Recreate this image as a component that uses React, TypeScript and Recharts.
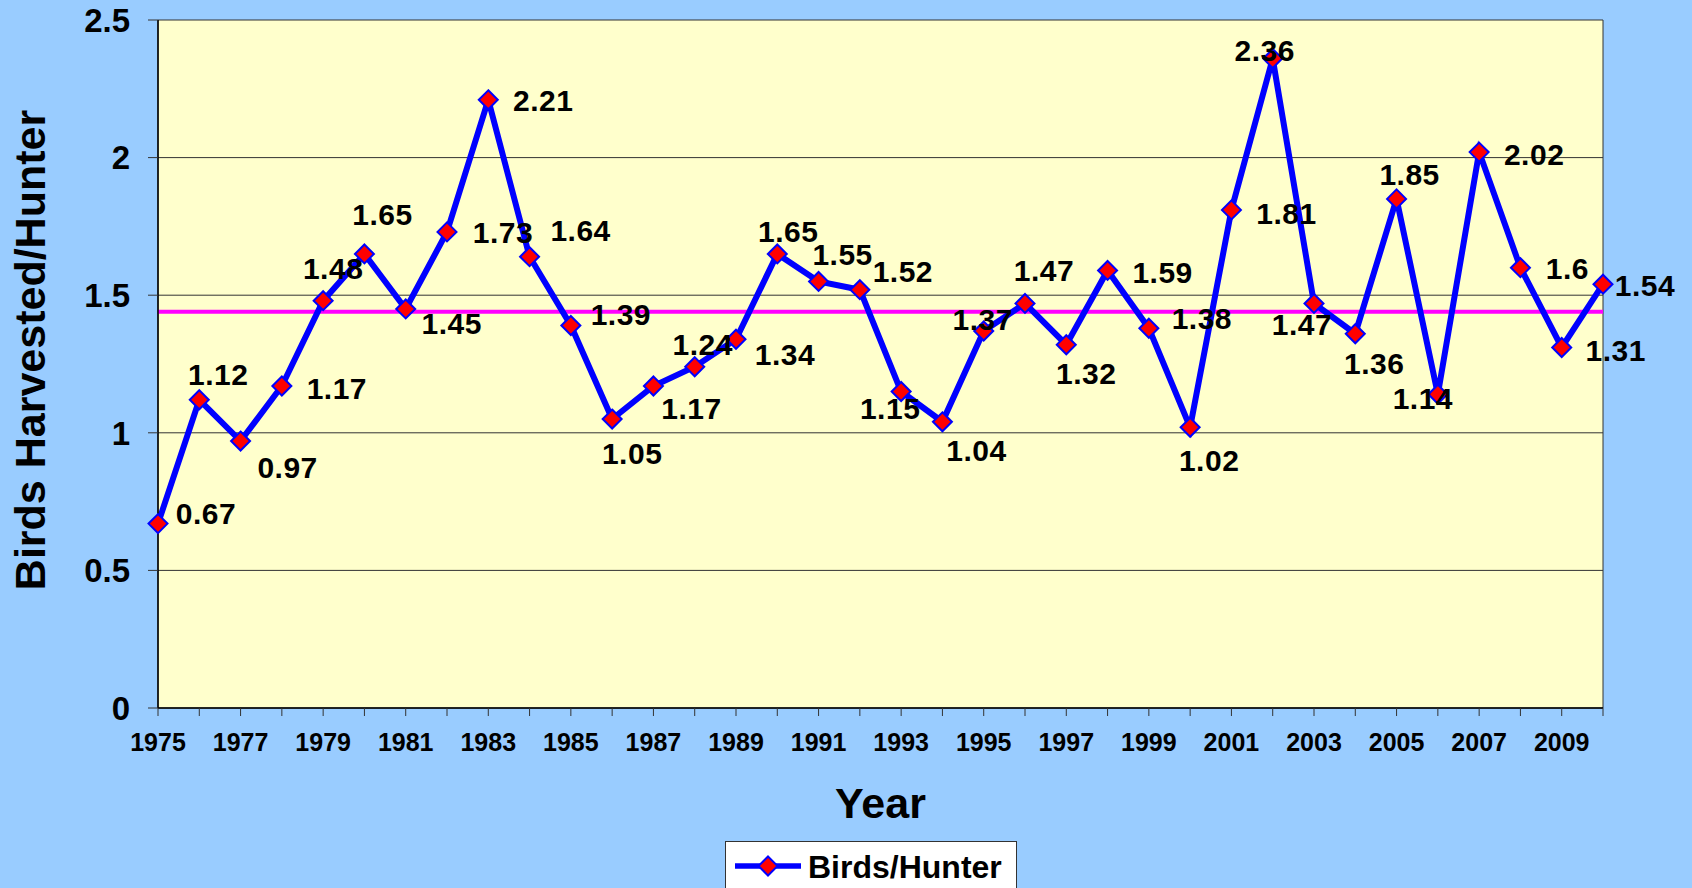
import { LineChart, Line, XAxis, YAxis, CartesianGrid, ReferenceLine, LabelList, Legend, Label } from 'recharts';

const FONT = 'Arial, "Liberation Sans", sans-serif';

const YEARS = [
  1975, 1976, 1977, 1978, 1979, 1980, 1981, 1982, 1983, 1984, 1985, 1986,
  1987, 1988, 1989, 1990, 1991, 1992, 1993, 1994, 1995, 1996, 1997, 1998,
  1999, 2000, 2001, 2002, 2003, 2004, 2005, 2006, 2007, 2008, 2009, 2010,
];

const BIRDS_PER_HUNTER = [
  0.67, 1.12, 0.97, 1.17, 1.48, 1.65, 1.45, 1.73, 2.21, 1.64, 1.39, 1.05,
  1.17, 1.24, 1.34, 1.65, 1.55, 1.52, 1.15, 1.04, 1.37, 1.47, 1.32, 1.59,
  1.38, 1.02, 1.81, 2.36, 1.47, 1.36, 1.85, 1.14, 2.02, 1.6, 1.31, 1.54,
];

// long-term average line
const AVERAGE = 1.44;

const Y_TICKS = [0, 0.5, 1, 1.5, 2, 2.5];

// where each data label sits relative to its point (dx, dy), as Excel placed them
const LABEL_OFFSETS: [number, number][] = [
  [48, -10], [19, -26], [47, 26], [55, 2], [10, -33], [18, -40],
  [46, 14], [56, 0], [55, 0], [51, -26], [50, -11], [20, 34],
  [38, 22], [8, -23], [49, 15], [11, -23], [24, -27], [43, -18],
  [-11, 17], [34, 28], [-1, -12], [19, -33], [20, 28], [55, 2],
  [53, -10], [19, 33], [55, 3], [-8, -8], [-12, 21], [19, 29],
  [13, -25], [-15, 4], [55, 2], [47, 1], [54, 3], [42, 1],
];

const data = YEARS.map((year, i) => ({ year, birds: BIRDS_PER_HUNTER[i] }));

function Diamond({ cx, cy }: any) {
  if (cx == null || cy == null) return null;
  const r = 9.5;
  return (
    <polygon
      points={`${cx},${cy - r} ${cx + r},${cy} ${cx},${cy + r} ${cx - r},${cy}`}
      fill="#FF0000"
      stroke="#0000FF"
      strokeWidth={2}
    />
  );
}

function PointLabel(props: any) {
  const { index, value } = props;
  const x = props.viewBox?.x ?? props.x;
  const y = props.viewBox?.y ?? props.y;
  if (x == null || y == null) return null;
  const [dx, dy] = LABEL_OFFSETS[index] ?? [45, 0];
  return (
    <text
      x={x + dx}
      y={y + dy}
      dy="0.36em"
      textAnchor="middle"
      fontSize={30}
      fontWeight="bold"
      fontFamily={FONT}
      letterSpacing={0.5}
      fill="#000"
    >
      {value}
    </text>
  );
}

function YTitle(props: any) {
  const vb = props.viewBox ?? { x: 0, y: 20, width: 158, height: 688 };
  const x = vb.x + 30;
  const y = vb.y + vb.height / 2 - 14;
  return (
    <text
      x={x}
      y={y}
      dy="0.36em"
      transform={`rotate(-90 ${x} ${y})`}
      textAnchor="middle"
      fontSize={43}
      fontWeight="bold"
      fontFamily={FONT}
      fill="#000"
    >
      Birds Harvested/Hunter
    </text>
  );
}

function XTitle(props: any) {
  const vb = props.viewBox ?? { x: 158, y: 708, width: 1445, height: 60 };
  return (
    <text
      x={vb.x + vb.width / 2}
      y={vb.y + 110}
      textAnchor="middle"
      fontSize={43}
      fontWeight="bold"
      fontFamily={FONT}
      fill="#000"
    >
      Year
    </text>
  );
}

function LegendBox() {
  return (
    <div
      style={{
        width: 292,
        height: 60,
        background: '#FFFFFF',
        border: '1px solid #333',
        boxSizing: 'border-box',
        position: 'relative',
      }}
    >
      <svg width={292} height={60} style={{ position: 'absolute', left: -1, top: -1 }}>
        <line x1={10} y1={25} x2={76} y2={25} stroke="#0000FF" strokeWidth={5.5} />
        <Diamond cx={43} cy={25} />
        <text x={83} y={37} fontSize={32} fontWeight="bold" fontFamily={FONT} fill="#000">
          Birds/Hunter
        </text>
      </svg>
    </div>
  );
}

export default function App() {
  return (
    <div
      style={{
        position: 'absolute',
        left: 0,
        top: 0,
        width: 1692,
        height: 888,
        overflow: 'hidden',
        background: '#99CCFF',
      }}
    >
      <LineChart width={1692} height={888} data={data} margin={{ top: 20, right: 89, left: 0, bottom: 120 }}>
        <CartesianGrid
          stroke="#333"
          strokeWidth={1}
          fill="#FFFFCC"
          fillOpacity={1}
          verticalCoordinatesGenerator={({ offset }: any) => [offset.left, offset.left + offset.width]}
        />
        <XAxis
          dataKey="year"
          type="category"
          interval={0}
          height={60}
          tickSize={8}
          tickMargin={17}
          stroke="#000"
          axisLine={{ stroke: '#000', strokeWidth: 1.5 }}
          tickLine={{ stroke: '#333' }}
          tick={{ fontSize: 25, fontWeight: 'bold', fill: '#000', fontFamily: FONT }}
          tickFormatter={(v: number) => (v % 2 === 1 ? String(v) : '')}
        >
          <Label content={<XTitle />} />
        </XAxis>
        <YAxis
          width={158}
          domain={[0, 2.5]}
          ticks={Y_TICKS}
          tickSize={10}
          tickMargin={18}
          axisLine={{ stroke: '#000', strokeWidth: 1.5 }}
          tickLine={{ stroke: '#333' }}
          tick={{ fontSize: 33, fontWeight: 'bold', fill: '#000', fontFamily: FONT }}
        >
          <Label content={<YTitle />} />
        </YAxis>
        <ReferenceLine y={AVERAGE} stroke="#FF00FF" strokeWidth={4} />
        <Line
          type="linear"
          dataKey="birds"
          name="Birds/Hunter"
          stroke="#0000FF"
          strokeWidth={6}
          dot={<Diamond />}
          activeDot={false}
          isAnimationActive={false}
        >
          <LabelList dataKey="birds" content={<PointLabel />} />
        </Line>
        <Legend
          layout="horizontal"
          verticalAlign="middle"
          align="center"
          wrapperStyle={{ left: 725, top: 841, width: 292, height: 60 }}
          content={() => <LegendBox />}
        />
      </LineChart>
    </div>
  );
}
